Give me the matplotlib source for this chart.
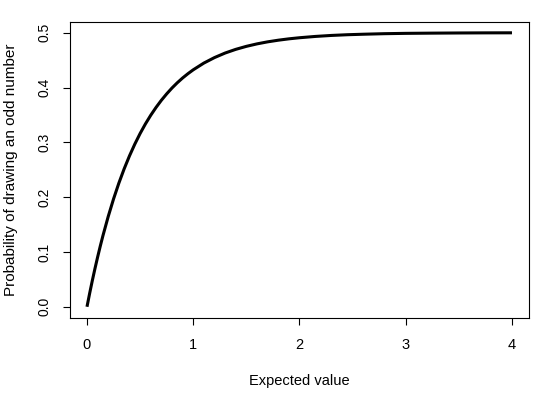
import matplotlib.pyplot as plt

# expected value (x) and probability of drawing an odd number (y)
expected = [0, 0.025, 0.05, 0.075, 0.1, 0.125, 0.15, 0.2, 0.25, 0.3, 0.35, 0.4,
            0.45, 0.5, 0.55, 0.6, 0.65, 0.7, 0.75, 0.8, 0.85, 0.9, 0.95, 1.0,
            1.1, 1.2, 1.3, 1.4, 1.5, 1.6, 1.7, 1.8, 1.9, 2.0, 2.15, 2.3, 2.45,
            2.6, 2.8, 3.0, 3.25, 3.5, 3.75, 4.0]
prob_odd = [0, 0.0244, 0.0476, 0.0696, 0.0906, 0.1106, 0.1296, 0.1648, 0.1967,
            0.2256, 0.2517, 0.2753, 0.2967, 0.3161, 0.3336, 0.3494, 0.3637,
            0.3767, 0.3884, 0.3991, 0.4087, 0.4174, 0.4252, 0.4323, 0.4446,
            0.4546, 0.4629, 0.4696, 0.4751, 0.4796, 0.4833, 0.4863, 0.4888,
            0.4908, 0.4932, 0.4950, 0.4963, 0.4972, 0.4982, 0.4988, 0.4992,
            0.4995, 0.4997, 0.4998]
xticks = [0, 1, 2, 3, 4]
yticks = [0.0, 0.1, 0.2, 0.3, 0.4, 0.5]

plt.rcParams['font.family'] = ['Liberation Sans', 'DejaVu Sans']
plt.rcParams['font.size'] = 10.5

fig = plt.figure(figsize=(5.4, 3.93), dpi=100)
ax = fig.add_axes([0.1296, 0.1908, 0.85, 0.7532])

ax.plot(expected, prob_odd, color='black', lw=2.2, solid_capstyle='butt')

ax.set_xlim(-0.16, 4.16)
ax.set_ylim(-0.0205, 0.5195)
ax.set_xticks(xticks)
ax.set_xticklabels([str(t) for t in xticks])
ax.set_yticks(yticks)
ax.set_yticklabels([f'{t:.1f}' for t in yticks], rotation=90, va='center',
                   fontsize=10)
ax.tick_params(direction='out', length=5, width=0.8)
ax.tick_params(axis='x', pad=9.5)
ax.tick_params(axis='y', pad=8)
for s in ax.spines.values():
    s.set_linewidth(0.8)

ax.set_xlabel('Expected value', labelpad=16)
ax.set_ylabel('Probability of drawing an odd number', labelpad=14, fontsize=11)

fig.savefig('out.png', dpi=100)
